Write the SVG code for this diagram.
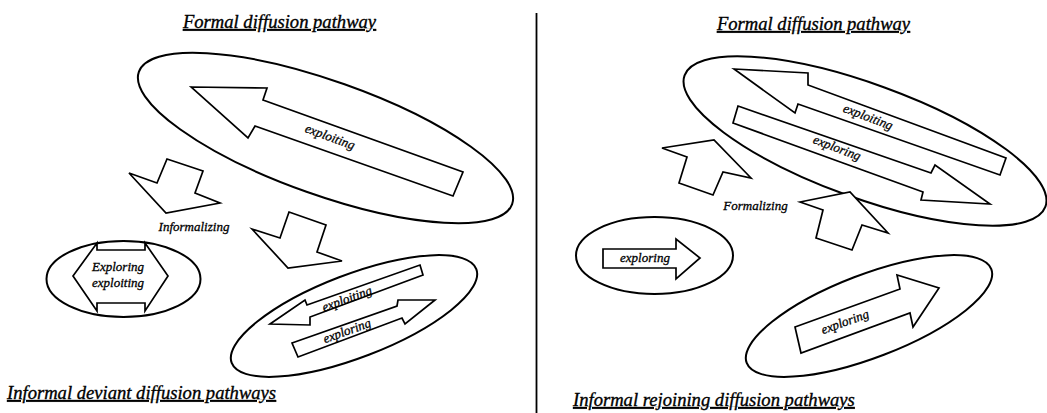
<svg xmlns="http://www.w3.org/2000/svg" width="1047" height="413" viewBox="0 0 1047 413">
<style>
.ell{fill:none;stroke:#000;stroke-width:2}
.arr{fill:#fff;stroke:#000;stroke-width:1.7;stroke-linejoin:miter}
.lbl{font-family:"Liberation Serif","Times New Roman",serif;font-style:italic;font-size:13px;fill:#000;stroke:#000;stroke-width:0.3}
.mid{text-anchor:middle}
.title{font-family:"Liberation Serif","Times New Roman",serif;font-style:italic;font-size:18.6px;fill:#000;stroke:#000;stroke-width:0.35;text-decoration:underline}
</style>
<rect width="1047" height="413" fill="#fff"/>
<line id="divider" x1="536.5" y1="13" x2="536.5" y2="413" stroke="#000" stroke-width="1.8"/>

<!-- LEFT PANEL -->
<text id="title-left-top" class="title mid" x="279.5" y="28">Formal diffusion pathway</text>
<text id="title-left-bottom" class="title" x="7" y="399">Informal deviant diffusion pathways</text>

<g id="formal-left">
  <ellipse class="ell" cx="325.5" cy="138" rx="198" ry="57" transform="rotate(19.5 325.5 138)"/>
  <polygon class="arr" points="191,87 267,88 263,100 463,172 453,196 255,126 248,138"/>
  <text class="lbl mid" transform="translate(330,137) rotate(20)" y="4">exploiting</text>
</g>

<g id="deviant-small">
  <ellipse class="ell" cx="123.5" cy="279" rx="77" ry="38"/>
  <polygon class="arr" points="73,276 97,243 97,250 145,250 145,243 168,276 145,311 145,303 97,303 97,311"/>
  <text class="lbl mid" x="118" y="271">Exploring</text>
  <text class="lbl mid" x="118" y="287">exploiting</text>
</g>

<g id="deviant-large">
  <ellipse class="ell" cx="354" cy="316" rx="131" ry="41.5" transform="rotate(-21 354 316)"/>
  <polygon class="arr" points="270,324 305,300 307,305 420,265 423,275 310,317 310,325"/>
  <polygon class="arr" points="292,343 397,306 398,300 435,300 405,324 402,318 298,357"/>
  <text class="lbl mid" transform="translate(347,299) rotate(-20)" y="4">exploiting</text>
  <text class="lbl mid" transform="translate(347,331) rotate(-20)" y="4">exploring</text>
</g>

<!-- RIGHT PANEL -->
<text id="title-right-top" class="title mid" x="813.5" y="30">Formal diffusion pathway</text>
<text id="title-right-bottom" class="title" x="573" y="406">Informal rejoining diffusion pathways</text>

<g id="formal-right">
  <ellipse class="ell" cx="865" cy="141" rx="192" ry="57" transform="rotate(20 865 141)"/>
  <polygon class="arr" points="734,69 808,73 808,85 1006,158 1000,175 798,104 795,113"/>
  <polygon class="arr" points="738,106 931,173 935,165 990,204 921,200 923,192 733,123"/>
  <text class="lbl mid" transform="translate(868,117) rotate(21)" y="4">exploiting</text>
  <text class="lbl mid" transform="translate(837,148) rotate(21)" y="4">exploring</text>
</g>

<g id="rejoining-small">
  <ellipse class="ell" cx="654.5" cy="255.5" rx="78.5" ry="38.5"/>
  <polygon class="arr" points="603,249 676,249 676,239 700,258 676,279 676,268 603,268"/>
  <text class="lbl mid" x="645" y="262">exploring</text>
</g>

<g id="rejoining-large">
  <ellipse class="ell" cx="869" cy="316" rx="131" ry="41.5" transform="rotate(-21 869 316)"/>
  <polygon class="arr" points="795,327 900,289 897,275 939,288 913,327 910,313 801,353"/>
  <text class="lbl mid" transform="translate(845,322) rotate(-20)" y="4">exploring</text>
</g>

<g id="connectors">
  <g id="informalizing-1">
    <polygon class="arr" points="167,159 203,171 195,193 220,203 166,213 129,173 157,183"/>
  </g>
  <g id="informalizing-2">
    <polygon class="arr" points="289,212 326,225 317,252 342,261 288,268 252,229 280,238"/>
  </g>
  <text id="label-informalizing" class="lbl mid" x="194" y="231">Informalizing</text>
  <g id="formalizing-1">
    <polygon class="arr" points="662,148 714,140 751,178 723,172 713,195 679,183 687,157"/>
  </g>
  <g id="formalizing-2">
    <polygon class="arr" points="800,202 850,192 888,233 862,225 852,250 816,238 823,210"/>
  </g>
  <text id="label-formalizing" class="lbl mid" x="755.5" y="210">Formalizing</text>
</g>
</svg>
